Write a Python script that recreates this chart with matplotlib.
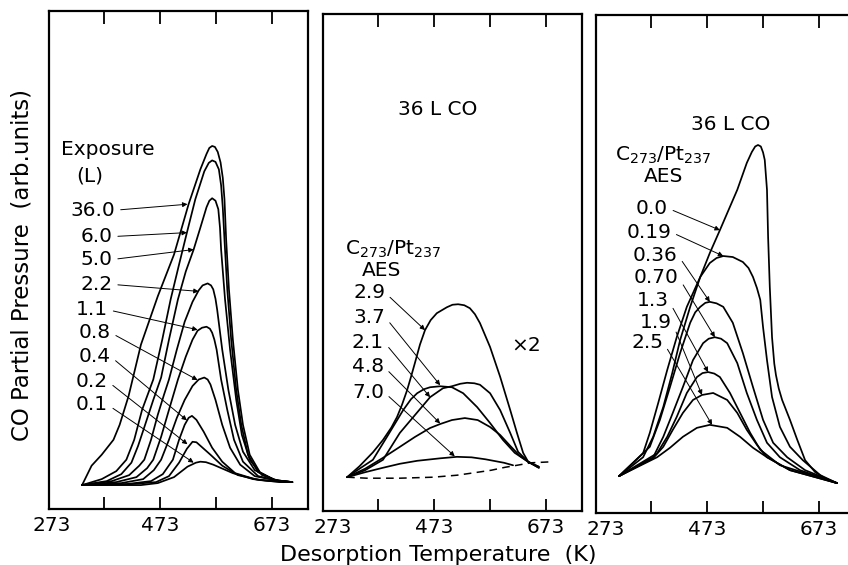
import matplotlib
matplotlib.use('Agg')
import matplotlib.pyplot as plt

plt.rcParams['font.family'] = ['DejaVu Sans']
plt.rcParams['mathtext.default'] = 'regular'

# ---------------- data (T in K, CO partial pressure in arb. units) ----------------
# Panel 1: clean surface, different CO exposures (L)
exposures = ['36.0', '6.0', '5.0', '2.2', '1.1', '0.8', '0.4', '0.2', '0.1']
exp_36_0 = [(334,4.8),(351,8.7),(369,10.9),(390,13.9),(401,16.9),(417,22.7),(439,33.0),(469,42.7),(498,51.1),(524,61.2),(545,68.2),(556,71.3),(561,72.5),(566,72.9),(571,72.7),(576,71.7),(581,69.6),(585,66.5),(588,62.2),(591,54.1),(596,44.1),(603,34.0),(612,23.9),(621,16.9),(633,10.9),(651,7.4),(678,5.8),(709,5.4)]
exp_6_0 = [(334,4.8),(369,6.0),(395,7.6),(413,9.9),(427,13.9),(441,19.9),(461,26.0),(477,34.0),(492,42.1),(507,49.1),(521,55.5),(536,62.2),(552,67.8),(560,69.5),(566,70.0),(572,69.7),(578,68.2),(582,65.0),(585,60.5),(588,54.1),(593,44.1),(600,34.0),(609,23.9),(618,16.9),(630,10.9),(648,7.4),(678,5.8),(709,5.4)]
exp_5_0 = [(334,4.8),(378,5.6),(404,7.0),(422,9.3),(434,12.7),(447,17.1),(461,21.9),(475,26.4),(489,34.0),(505,42.1),(519,47.7),(533,52.1),(545,56.5),(556,60.6),(561,61.9),(566,62.4),(572,61.9),(577,60.2),(580,56.5),(582,52.1),(589,42.1),(598,32.0),(609,21.9),(619,14.9),(633,9.9),(655,6.8),(686,5.6),(709,5.4)]
exp_2_2 = [(334,4.8),(387,5.6),(418,6.8),(436,8.7),(445,9.9),(457,13.9),(469,18.9),(480,22.9),(489,26.0),(503,32.0),(517,37.6),(531,41.6),(542,43.9),(549,44.9),(558,45.3),(564,44.9),(568,44.1),(572,42.2),(575,40.0),(584,32.0),(595,23.9),(607,16.9),(621,11.5),(642,7.8),(678,5.8),(709,5.4)]
exp_1_1 = [(334,4.8),(395,5.4),(431,6.4),(450,8.2),(461,9.9),(475,14.5),(489,19.9),(505,26.0),(519,30.6),(531,34.0),(540,35.8),(548,36.4),(556,36.6),(562,36.2),(566,35.4),(570,34.0),(574,32.0),(582,26.0),(593,19.9),(605,13.9),(621,9.5),(648,6.6),(686,5.6),(709,5.4)]
exp_0_8 = [(334,4.8),(404,5.2),(443,6.0),(462,7.8),(475,9.9),(489,13.9),(503,18.3),(517,21.9),(531,24.7),(542,26.0),(552,26.4),(558,26.0),(563,25.0),(572,21.9),(584,16.9),(598,12.3),(616,8.9),(642,6.6),(686,5.6),(709,5.4)]
exp_0_4 = [(334,4.8),(413,5.0),(457,5.6),(478,7.0),(496,9.9),(507,13.9),(517,16.9),(524,18.3),(530,18.7),(538,17.9),(551,15.5),(566,12.3),(584,9.5),(607,7.2),(642,6.0),(686,5.4),(709,5.4)]
exp_0_2 = [(334,4.8),(422,5.0),(466,5.4),(489,6.6),(507,9.3),(521,12.1),(531,13.5),(538,13.4),(545,12.7),(563,10.9),(584,8.7),(612,6.8),(651,5.8),(709,5.4)]
exp_0_1 = [(334,4.8),(439,4.8),(469,5.2),(498,6.4),(522,8.5),(537,9.3),(545,9.5),(555,9.4),(568,8.9),(603,7.2),(639,6.0),(669,5.6),(709,5.4)]
panel1_curves = [exp_36_0, exp_6_0, exp_5_0, exp_2_2, exp_1_1, exp_0_8, exp_0_4, exp_0_2, exp_0_1]

# Panel 2: 36 L CO, carbon-covered surface (C273/Pt237 AES ratio), x2
ratios_high = ['2.9', '3.7', '2.1', '4.8', '7.0']
c_2_9 = [(318,6.8),(340,9.0),(364,11.8),(382,14.3),(397,16.8),(407,18.9),(416,21.4),(425,24.3),(432,27.0),(439,29.8),(448,33.5),(457,36.4),(467,38.4),(478,39.8),(496,41.0),(506,41.5),(516,41.6),(527,41.4),(537,40.8),(546,39.6),(555,37.8),(573,33.0),(591,27.0),(609,20.3),(621,15.7),(632,11.7),(641,9.9),(660,8.7)]
c_3_7 = [(318,6.8),(340,8.5),(364,10.3),(389,14.9),(418,20.3),(432,22.5),(443,23.7),(455,24.5),(466,24.9),(484,25.1),(505,24.9),(525,23.7),(550,20.9),(573,17.7),(596,14.3),(617,11.7),(641,9.9),(660,8.7)]
c_2_1 = [(318,6.8),(350,8.2),(382,10.3),(412,15.7),(436,18.9),(466,22.9),(489,24.7),(505,25.1),(520,25.6),(532,25.8),(545,25.7),(555,25.4),(573,23.7),(591,20.3),(609,15.7),(623,11.9),(641,9.9),(660,8.9)]
c_4_8 = [(318,6.8),(350,8.5),(382,10.7),(412,12.9),(439,14.9),(466,16.7),(484,17.5),(505,18.3),(528,18.7),(551,18.3),(573,16.9),(591,15.3),(609,13.1),(626,11.1),(641,9.9),(660,8.9)]
c_7_0 = [(318,6.8),(350,7.8),(382,8.7),(412,9.5),(443,10.1),(484,10.6),(514,10.9),(540,10.8),(565,10.4),(598,9.7),(614,9.2)]
baseline_dashed = [(318,6.8),(353,6.6),(412,6.6),(471,6.8),(514,7.2),(545,7.7),(575,8.2),(600,8.8),(616,9.1),(646,9.7),(683,9.9)]
panel2_curves = [c_2_9, c_3_7, c_2_1, c_4_8, c_7_0]

# Panel 3: 36 L CO, low carbon coverage
ratios_low = ['0.0', '0.19', '0.36', '0.70', '1.3', '1.9', '2.5']
c_0_00 = [(316,7.4),(359,11.2),(377,15.3),(395,21.3),(411,28.1),(425,34.7),(443,41.4),(461,47.4),(478,52.2),(496,56.8),(509,60.2),(527,64.9),(544,70.3),(553,72.5),(559,73.6),(564,73.9),(569,73.6),(573,72.4),(576,70.9),(580,64.9),(582,55.4),(585,45.4),(589,35.3),(593,30.0),(596,27.7),(601,25.0),(607,22.7),(621,18.7),(634,14.7),(648,10.6),(666,8.2),(683,7.0),(705,6.0)]
c_0_19 = [(316,7.4),(359,12.0),(371,16.1),(386,22.1),(402,28.7),(419,35.3),(437,41.4),(461,47.4),(478,50.2),(490,51.2),(502,51.6),(519,51.4),(537,50.4),(547,49.2),(555,47.4),(562,45.2),(568,42.8),(573,37.3),(580,30.7),(589,23.3),(603,17.3),(621,13.3),(644,10.6),(675,7.6),(705,6.0)]
c_0_36 = [(316,7.4),(371,13.3),(389,18.7),(407,25.3),(425,32.1),(443,38.2),(452,40.3),(461,41.4),(470,42.2),(478,42.4),(490,42.1),(502,41.4),(519,38.2),(537,32.1),(555,25.3),(573,18.7),(591,14.1),(616,11.2),(648,8.6),(705,6.0)]
c_0_70 = [(316,7.4),(377,11.2),(395,15.3),(412,20.1),(430,25.3),(448,30.7),(466,34.1),(476,35.0),(487,35.3),(498,35.0),(509,34.1),(527,30.1),(544,24.1),(562,18.7),(580,14.1),(603,11.2),(639,8.6),(705,6.0)]
c_1_3 = [(316,7.4),(384,12.0),(402,15.3),(419,19.3),(437,24.1),(455,27.3),(465,28.1),(475,28.3),(486,28.0),(496,27.3),(514,24.1),(532,20.1),(550,16.1),(568,12.7),(603,9.6),(705,6.0)]
c_1_9 = [(316,7.4),(377,11.0),(395,13.3),(412,16.7),(430,20.1),(448,22.7),(464,23.7),(484,24.1),(509,22.7),(527,20.1),(544,16.7),(562,13.7),(580,11.2),(621,8.6),(705,6.0)]
c_2_5 = [(316,7.4),(384,11.2),(407,13.1),(430,15.3),(455,17.1),(478,17.7),(509,17.1),(532,15.3),(555,13.1),(580,11.2),(621,8.6),(705,6.0)]
panel3_curves = [c_0_00, c_0_19, c_0_36, c_0_70, c_1_3, c_1_9, c_2_5]

tick_values = [373, 473, 573, 673]
tick_labels = ['', '473', '', '673']

# ---------------- layout ----------------
W, H = 848, 565
fig = plt.figure(figsize=(W/100, H/100), dpi=100)
fig.patch.set_facecolor('white')

rects = [(49, 11, 259, 498), (323, 14, 259, 497), (596, 15, 259, 498)]   # left, top, width, height (px)
first_label_pos = [280, 293, 293]
axes = []
for (l, t, w, h), x273 in zip(rects, first_label_pos):
    ax = fig.add_axes([l/W, 1-(t+h)/H, w/W, h/H])
    ax.set_xlim(275, 737)
    ax.set_ylim(0, 100)
    ax.set_yticks([])
    ax.set_xticks(tick_values)
    ax.set_xticklabels(tick_labels)
    ax.set_xticks([x273], minor=True)
    ax.set_xticklabels(['273'], minor=True)
    ax.tick_params(axis='x', which='major', direction='in', length=9, width=1.3,
                   top=True, bottom=True, labelsize=14.5, pad=5)
    ax.tick_params(axis='x', which='minor', direction='in', length=0,
                   top=False, bottom=True, labelsize=14.5, pad=5)
    for s in ax.spines.values():
        s.set_linewidth(1.6)
    axes.append(ax)

line_kw = dict(color='black', lw=1.25, solid_joinstyle='round', solid_capstyle='round')
arrow_kw = dict(arrowstyle='-|>', lw=0.7, color='black', mutation_scale=7,
                shrinkA=2, shrinkB=0, relpos=(1.0, 0.5))
txt = dict(fontsize=14.5, color='black')


def draw(ax, curve, **kw):
    xs = [p[0] for p in curve]
    ys = [p[1] for p in curve]
    ax.plot(xs, ys, **kw)

# Panel 1
ax1 = axes[0]
for c in panel1_curves:
    draw(ax1, c, **line_kw)
p1_text = [(393, 60.0), (388, 54.7), (388, 50.1), (388, 45.1), (380, 40.0),
           (385, 35.4), (385, 30.6), (380, 25.6), (380, 20.9)]
p1_tip = [(522, 61.2), (521, 55.5), (533, 52.1), (542, 43.7), (540, 36.0),
          (540, 25.9), (521, 17.8), (522, 13.0), (533, 9.3)]
for lab, xt, xy in zip(exposures, p1_text, p1_tip):
    ax1.annotate(lab, xy=xy, xytext=xt, ha='right', va='center', arrowprops=arrow_kw, **txt)
ax1.text(380, 72.2, 'Exposure', ha='center', va='center', **txt)
ax1.text(348, 66.8, '(L)', ha='center', va='center', **txt)

# Panel 2
ax2 = axes[1]
for c in panel2_curves:
    draw(ax2, c, **line_kw)
xs = [p[0] for p in baseline_dashed]
ys = [p[1] for p in baseline_dashed]
ax2.plot(xs, ys, color='black', lw=1.1, dashes=(5, 3.5))
p2_text = [(386, 43.9), (386, 39.0), (384, 34.0), (384, 29.0), (384, 23.9)]
p2_tip = [(457, 36.4), (484, 25.3), (466, 22.9), (484, 17.6), (510, 11.0)]
for lab, xt, xy in zip(ratios_high, p2_text, p2_tip):
    ax2.annotate(lab, xy=xy, xytext=xt, ha='right', va='center', arrowprops=arrow_kw, **txt)
ax2.text(480, 80.7, '36 L CO', ha='center', va='center', **txt)
ax2.text(400, 52.7, r'C$_{273}$/Pt$_{237}$', ha='center', va='center', **txt)
ax2.text(380, 48.3, 'AES', ha='center', va='center', **txt)
ax2.text(637, 33.2, '×2', ha='center', va='center', **txt)

# Panel 3
ax3 = axes[2]
for c in panel3_curves:
    draw(ax3, c, **line_kw)
p3_text = [(403, 61.2), (409, 56.4), (421, 51.8), (423, 47.2), (405, 42.6), (411, 38.2), (395, 34.3)]
p3_tip = [(496, 56.8), (502, 51.6), (478, 42.4), (487, 35.3), (475, 28.3), (464, 23.7), (482, 17.7)]
for lab, xt, xy in zip(ratios_low, p3_text, p3_tip):
    ax3.annotate(lab, xy=xy, xytext=xt, ha='right', va='center', arrowprops=arrow_kw, **txt)
ax3.text(516, 78.1, '36 L CO', ha='center', va='center', **txt)
ax3.text(395, 71.9, r'C$_{273}$/Pt$_{237}$', ha='center', va='center', **txt)
ax3.text(395, 67.5, 'AES', ha='center', va='center', **txt)

fig.text(438/W, 1-555/H, 'Desorption Temperature  (K)', ha='center', va='center', fontsize=16)
fig.text(22/W, 1-265/H, 'CO Partial Pressure  (arb.units)', ha='center', va='center',
         rotation=90, fontsize=16.5)

fig.savefig('out.png', dpi=100, facecolor='white')
